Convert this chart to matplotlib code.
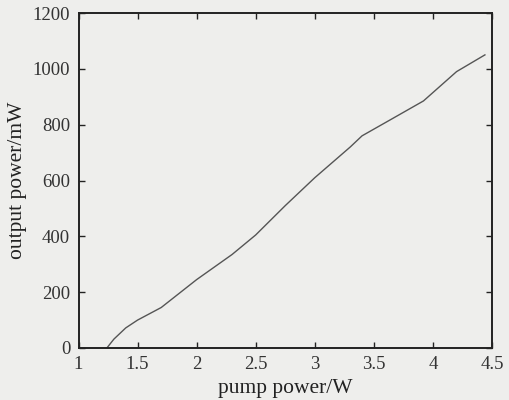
import numpy as np
import matplotlib.pyplot as plt

# pump power (W) vs output power (mW)
pump = [1.24, 1.30, 1.40, 1.50, 1.70, 2.00, 2.30, 2.50, 2.75, 3.00, 3.30, 3.40, 3.65, 3.92, 4.20, 4.44]
output = [0, 32, 72, 100, 145, 245, 335, 405, 510, 610, 720, 760, 820, 885, 990, 1050]

xticks = [1, 1.5, 2, 2.5, 3, 3.5, 4, 4.5]
xticklabels = ['1', '1.5', '2', '2.5', '3', '3.5', '4', '4.5']
yticks = [0, 200, 400, 600, 800, 1000, 1200]

plt.rcParams['font.family'] = ['Liberation Serif', 'DejaVu Serif']
plt.rcParams['font.size'] = 13.5

bg = '#eeeeec'
fig = plt.figure(figsize=(5.09, 4.00), dpi=100, facecolor=bg)
ax = fig.add_axes([78.5 / 509, 1 - 348 / 400, (492 - 78.5) / 509, (348 - 13) / 400])
ax.set_facecolor(bg)

ax.plot(pump, output, color='#555555', lw=1.0)

ax.set_xlim(1, 4.5)
ax.set_ylim(0, 1200)
ax.set_xticks(xticks)
ax.set_xticklabels(xticklabels)
ax.set_yticks(yticks)
ax.tick_params(direction='in', top=True, right=True, length=4, width=1, colors='#222222',
               labelcolor='#333333', pad=6)
for s in ax.spines.values():
    s.set_linewidth(1.4)
    s.set_color('#222222')

ax.set_xlabel('pump power/W', color='#222222', labelpad=4, fontsize=15.5)
ax.set_ylabel('output power/mW', color='#222222', labelpad=4, fontsize=15.5)

fig.savefig('out.png', dpi=100, facecolor=bg)
